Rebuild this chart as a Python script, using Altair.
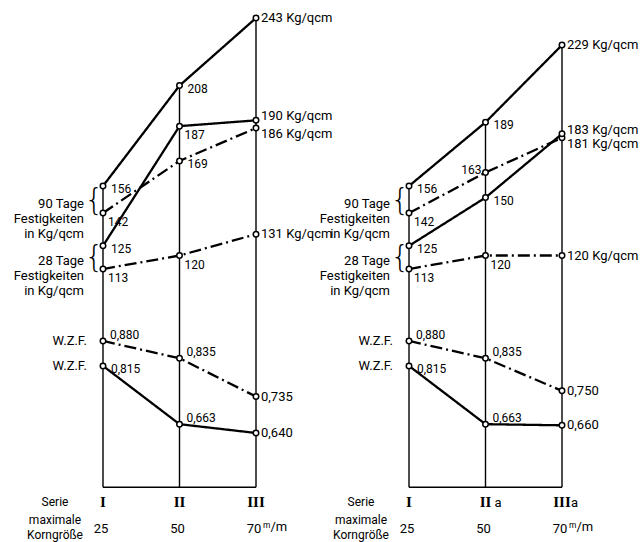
import altair as alt
import pandas as pd

# ---------------------------------------------------------------- data
SERIE_LEFT = ["I", "II", "III"]
SERIE_RIGHT = ["I", "II", "III"]
SERIE_RIGHT_SUFFIX = ["", "a", "a"]
KORNGROESSE = ["25", "50", "70"]

# compressive strength in Kg/qcm (90 days and 28 days), one value per Serie
L_90_SOLID = [156, 208, 243]
L_90_DASH = [142, 169, 186]
L_28_SOLID = [125, 187, 190]
L_28_DASH = [113, 120, 131]

R_90_SOLID = [156, 189, 229]
R_90_DASH = [142, 163, 181]
R_28_SOLID = [125, 150, 183]
R_28_DASH = [113, 120, 120]

# water-cement factor (W.Z.F.)
L_WZF_DASH = [0.880, 0.835, 0.735]
L_WZF_SOLID = [0.815, 0.663, 0.640]
R_WZF_DASH = [0.880, 0.835, 0.750]
R_WZF_SOLID = [0.815, 0.663, 0.660]

# ---------------------------------------------------------------- layout
W, H = 643, 542
PANEL_STEP = 4          # column slots between the two panels
X_DOMAIN = [-1.3464, 7.0588]
STR_DOMAIN = [-28.38, 252.33]
WZF_DOMAIN = [0.3556, 1.7696]

FONT = "Roboto, Liberation Sans, sans-serif"
SERIF = "Liberation Serif, DejaVu Serif, serif"
SMALL, BIG, TEXT = 12, 13, 13

# label placement around each point (kept apart from the values)
PLACES = {
    "L90s": ["r", "r", "end"],
    "L90d": ["rb", "r", "end_dn"],
    "L28s": ["r", "rb", "end_up"],
    "L28d": ["rb", "rb", "end"],
    "R90s": ["r", "r", "end"],
    "R90d": ["rb", "l", "end_dn"],
    "R28s": ["r", "r", "end_up"],
    "R28d": ["rb", "rb", "end"],
    "LWd": ["ra", "ra", "end"],
    "LWs": ["r", "ra", "end"],
    "RWd": ["ra", "ra", "end"],
    "RWs": ["r", "ra", "end"],
}
LABEL_STYLE = {
    "r": dict(dx=8, dy=3, align="left", fontSize=SMALL),
    "rb": dict(dx=5, dy=9, align="left", fontSize=SMALL),
    "ra": dict(dx=7, dy=-6, align="left", fontSize=SMALL),
    "l": dict(dx=-4, dy=-2, align="right", fontSize=SMALL),
    "end": dict(dx=5, dy=0, align="left", fontSize=BIG),
    "end_up": dict(dx=5, dy=-4, align="left", fontSize=BIG),
    "end_dn": dict(dx=5, dy=6, align="left", fontSize=BIG),
}

SERIES = [
    # key, panel, measure, line style, values
    ("L90s", 0, "str", "solid", L_90_SOLID),
    ("L90d", 0, "str", "dashdot", L_90_DASH),
    ("L28s", 0, "str", "solid", L_28_SOLID),
    ("L28d", 0, "str", "dashdot", L_28_DASH),
    ("R90s", 1, "str", "solid", R_90_SOLID),
    ("R90d", 1, "str", "dashdot", R_90_DASH),
    ("R28s", 1, "str", "solid", R_28_SOLID),
    ("R28d", 1, "str", "dashdot", R_28_DASH),
    ("LWd", 0, "wzf", "dashdot", L_WZF_DASH),
    ("LWs", 0, "wzf", "solid", L_WZF_SOLID),
    ("RWd", 1, "wzf", "dashdot", R_WZF_DASH),
    ("RWs", 1, "wzf", "solid", R_WZF_SOLID),
]


def fmt(value, measure, last):
    if measure == "wzf":
        return f"{value:.3f}".replace(".", ",")
    return f"{value} Kg/qcm" if last else f"{value}"


rows = []
for key, panel, measure, style, values in SERIES:
    for i, v in enumerate(values):
        rows.append(dict(series=key, panel=panel, measure=measure, style=style,
                         col=i, x=panel * PANEL_STEP + i, value=v,
                         label=fmt(v, measure, i == len(values) - 1),
                         place=PLACES[key][i]))
pts = pd.DataFrame(rows)

# vertical guide per Serie: from zero up to the highest strength point
str_pts = pts[pts.measure == "str"]
cols = str_pts.groupby(["panel", "col", "x"], as_index=False)["value"].max()
cols = cols.rename(columns={"value": "top"})
cols["base"] = 0
base = cols.groupby("panel", as_index=False).agg(x=("x", "min"), x_end=("x", "max"))
base["base"] = 0

# captions under the columns
cap_rows = []
for panel, names, suffix in [(0, SERIE_LEFT, ["", "", ""]),
                             (1, SERIE_RIGHT, SERIE_RIGHT_SUFFIX)]:
    for i, (n, s, k) in enumerate(zip(names, suffix, KORNGROESSE)):
        cap_rows.append(dict(panel=panel, x=panel * PANEL_STEP + i, numeral=n,
                             suffix=s, size=k, unit="ᵐ/m" if i == 2 else ""))
caps = pd.DataFrame(cap_rows)
first_cols = caps[caps.x % PANEL_STEP == 0].copy()

# bracketed group labels next to column I
grp_rows = []
for panel, p90s, p90d, p28s, p28d in [(0, L_90_SOLID, L_90_DASH, L_28_SOLID, L_28_DASH),
                                      (1, R_90_SOLID, R_90_DASH, R_28_SOLID, R_28_DASH)]:
    grp_rows.append(dict(x=panel * PANEL_STEP, mid=(p90s[0] + p90d[0]) / 2,
                         text="90 Tage\nFestigkeiten\nin Kg/qcm"))
    grp_rows.append(dict(x=panel * PANEL_STEP, mid=(p28s[0] + p28d[0]) / 2,
                         text="28 Tage\nFestigkeiten\nin Kg/qcm"))
groups = pd.DataFrame(grp_rows)

wzf_rows = []
for panel, d, s in [(0, L_WZF_DASH, L_WZF_SOLID), (1, R_WZF_DASH, R_WZF_SOLID)]:
    wzf_rows.append(dict(x=panel * PANEL_STEP, value=d[0], text="W.Z.F."))
    wzf_rows.append(dict(x=panel * PANEL_STEP, value=s[0], text="W.Z.F."))
wzf_lab = pd.DataFrame(wzf_rows)

# ---------------------------------------------------------------- encodings
X = alt.X("x:Q", scale=alt.Scale(domain=X_DOMAIN, nice=False, zero=False), axis=None)


def Y(field, measure):
    dom = STR_DOMAIN if measure == "str" else WZF_DOMAIN
    return alt.Y(f"{field}:Q", scale=alt.Scale(domain=dom, nice=False, zero=False),
                 axis=None)


layers = []

# column verticals and base line
layers.append(alt.Chart(cols).mark_rule(color="black", strokeWidth=1.4).encode(
    x=X, y=Y("base", "str"), y2="top:Q"))
layers.append(alt.Chart(base).mark_rule(color="black", strokeWidth=1.6).encode(
    x=X, x2="x_end:Q", y=Y("base", "str")))

dash = alt.StrokeDash("style:N", legend=None,
                      scale=alt.Scale(domain=["solid", "dashdot"],
                                      range=[[1, 0], [12, 4, 2, 4]]))

for measure in ["str", "wzf"]:
    sub = pts[pts.measure == measure]
    layers.append(alt.Chart(sub).mark_line(color="black", strokeWidth=2.3).encode(
        x=X, y=Y("value", measure), detail="series:N", order="col:Q",
        strokeDash=dash))
    layers.append(alt.Chart(sub).mark_point(
        shape="circle", filled=True, fill="white", stroke="black",
        strokeWidth=1.5, size=30, opacity=1).encode(x=X, y=Y("value", measure)))
    for code, st in LABEL_STYLE.items():
        part = sub[sub.place == code]
        if part.empty:
            continue
        layers.append(alt.Chart(part).mark_text(
            baseline="middle", font=FONT, color="black", **st).encode(
            x=X, y=Y("value", measure), text="label:N"))

# group labels with braces
layers.append(alt.Chart(groups).mark_text(
    align="right", baseline="middle", dx=-19, dy=4, font=FONT, fontSize=TEXT,
    lineBreak="\n", lineHeight=15, color="black").encode(
    x=X, y=Y("mid", "str"), text="text:N"))
layers.append(alt.Chart(groups).mark_text(
    align="center", baseline="middle", dx=-9, dy=1, font="DejaVu Sans",
    fontWeight=200, fontSize=30, color="black").encode(
    x=X, y=Y("mid", "str"), text=alt.value("{")))

layers.append(alt.Chart(wzf_lab).mark_text(
    align="right", baseline="middle", dx=-16, font=FONT, fontSize=TEXT,
    color="black").encode(x=X, y=Y("value", "wzf"), text="text:N"))

# captions under the columns
layers.append(alt.Chart(caps).mark_text(
    align="center", baseline="middle", font=SERIF, fontWeight="bold",
    fontSize=15, color="black").encode(x=X, y=alt.value(502), text="numeral:N"))
layers.append(alt.Chart(caps).mark_text(
    align="left", baseline="middle", dx=9, font=FONT, fontSize=TEXT,
    color="black").encode(x=X, y=alt.value(503), text="suffix:N"))
layers.append(alt.Chart(caps).mark_text(
    align="center", baseline="middle", dx=-2, font=FONT, fontSize=TEXT,
    color="black").encode(x=X, y=alt.value(529), text="size:N"))
layers.append(alt.Chart(caps).mark_text(
    align="left", baseline="middle", dx=7, dy=-2, font=FONT, fontSize=TEXT,
    color="black").encode(x=X, y=alt.value(529), text="unit:N"))
for txt, ypx in [("Serie", 502), ("maximale", 520), ("Korngröße", 535)]:
    layers.append(alt.Chart(first_cols).mark_text(
        align="center", baseline="middle", dx=-48, font=FONT, fontSize=12,
        color="black").encode(x=X, y=alt.value(ypx), text=alt.value(txt)))

chart = (
    alt.layer(*layers)
    .resolve_scale(y="independent")
    .properties(width=W, height=H, padding=0, background="white",
                autosize=alt.AutoSizeParams(type="none"))
    .configure_view(stroke=None)
)

chart.save("out.html", embed_options={"renderer": "svg", "actions": False})
